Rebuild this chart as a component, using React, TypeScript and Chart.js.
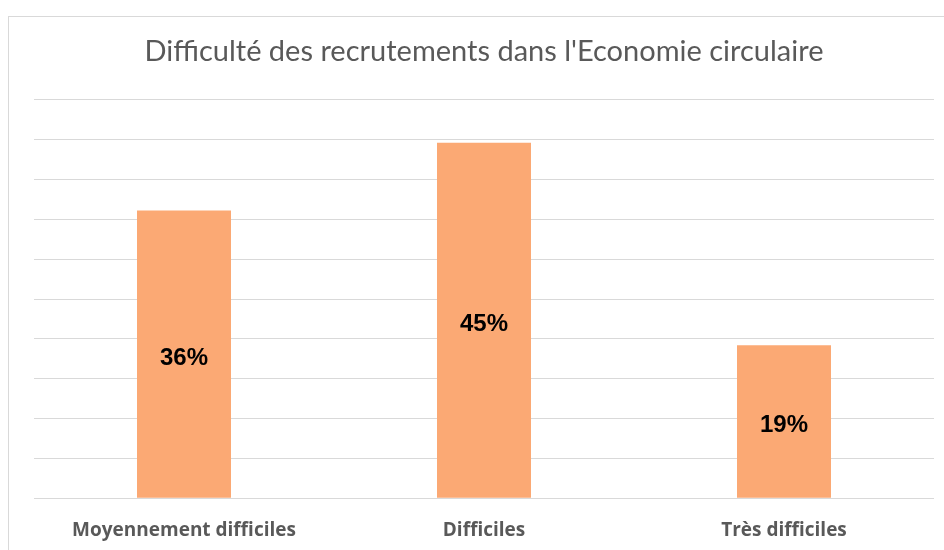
import React, { useEffect, useRef } from "react";
import { Chart, registerables } from "chart.js";

Chart.register(...registerables);

const categories = ["Moyennement difficiles", "Difficiles", "Très difficiles"];
const values = [36.1, 44.6, 19.2];
const valueLabels = ["36%", "45%", "19%"];
const titleText = "Difficulté des recrutements dans l'Economie circulaire";

const barLabelPlugin = {
  id: "barLabels",
  afterDatasetsDraw(chart: any) {
    const ctx = chart.ctx;
    const meta = chart.getDatasetMeta(0);
    ctx.save();
    ctx.font = "bold 24px 'Liberation Sans', Arial, sans-serif";
    ctx.fillStyle = "#000000";
    ctx.textAlign = "center";
    ctx.textBaseline = "alphabetic";
    meta.data.forEach((el: any, i: number) => {
      const props = el.getProps(["x", "y", "base"], true);
      ctx.fillText(valueLabels[i], props.x, (props.y + props.base) / 2 + 10.5);
    });
    ctx.restore();
  },
};

export default function App() {
  const ref = useRef<HTMLCanvasElement | null>(null);
  useEffect(() => {
    if (!ref.current) return;
    const chart = new Chart(ref.current, {
      type: "bar",
      data: {
        labels: categories,
        datasets: [
          {
            data: values,
            backgroundColor: "#FBA974",
            borderWidth: 0,
            categoryPercentage: 1,
            barPercentage: 94 / 300,
          },
        ],
      },
      options: {
        animation: false,
        responsive: false,
        maintainAspectRatio: false,
        layout: { padding: { left: 25, right: 25, top: 0, bottom: 16 } },
        plugins: {
          legend: { display: false },
          tooltip: { enabled: false },
          title: {
            display: true,
            text: titleText,
            color: "#595959",
            font: { family: "Lato", size: 29, weight: "normal", lineHeight: 1.2 },
            padding: { top: 17, bottom: 31 },
          },
        },
        scales: {
          x: {
            grid: { display: false, drawTicks: false },
            border: { display: false },
            ticks: {
              color: "#595959",
              font: { family: "'Open Sans'", size: 19, weight: "bold", lineHeight: 1.2 },
              padding: 21,
              maxRotation: 0,
              autoSkip: false,
            },
          },
          y: {
            min: 0,
            max: 50,
            ticks: { display: false, stepSize: 5 },
            grid: { color: "#d9d9d9", lineWidth: 1, drawTicks: false },
            border: { display: false },
          },
        },
      },
      plugins: [barLabelPlugin],
    });
    return () => chart.destroy();
  }, []);
  return (
    <div
      style={{
        position: "fixed",
        left: 8,
        top: 16,
        width: 950,
        height: 580,
        border: "1px solid #d9d9d9",
        background: "#ffffff",
      }}
    >
      <canvas ref={ref} width={950} height={562} style={{ display: "block" }} />
    </div>
  );
}
